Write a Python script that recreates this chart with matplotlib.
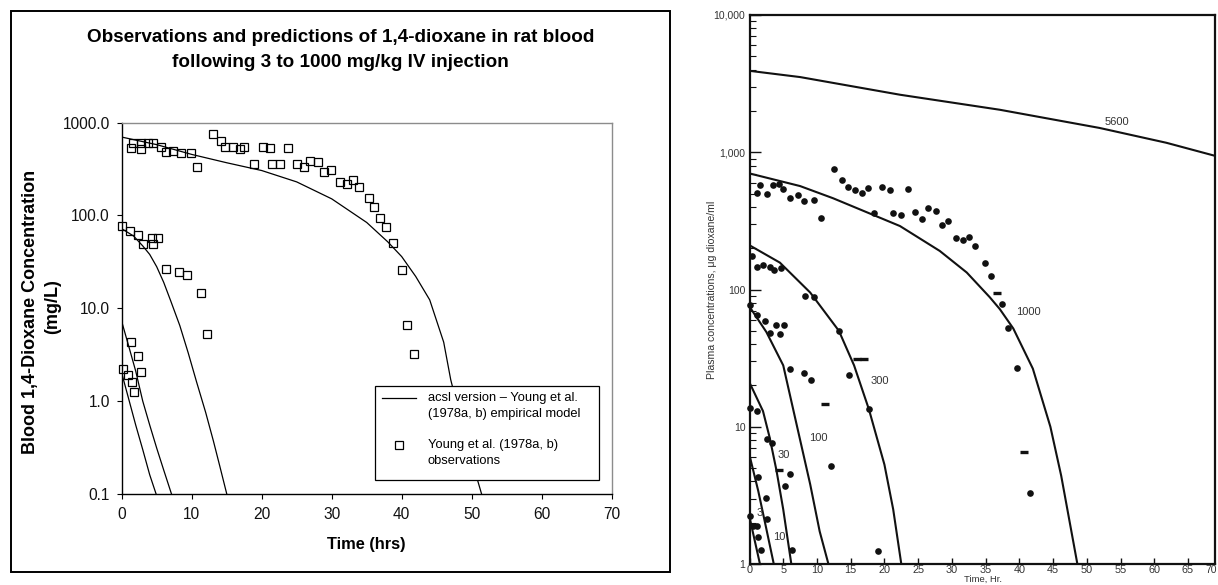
import matplotlib
matplotlib.use("Agg")
import matplotlib.pyplot as plt
from matplotlib.patches import Rectangle
from matplotlib.lines import Line2D
from matplotlib.ticker import FixedLocator, FixedFormatter, NullLocator, LogLocator, NullFormatter

plt.rcParams['font.family'] = ['Liberation Sans', 'DejaVu Sans']

# ---------------- Left panel data (acsl version) ----------------
left_title = ["Observations and predictions of 1,4-dioxane in rat blood",
              "following 3 to 1000 mg/kg IV injection"]
left_ylabel = ["Blood 1,4-Dioxane Concentration", "(mg/L)"]
left_xlabel = "Time (hrs)"
left_xticks = [0, 10, 20, 30, 40, 50, 60, 70]
left_yticks = [0.1, 1, 10, 100, 1000]
left_yticklabels = ["0.1", "1.0", "10.0", "100.0", "1000.0"]
legend_labels = ["acsl version \u2013 Young et al.", "(1978a, b) empirical model",
                 "Young et al. (1978a, b)", "observations"]

# model predictions
L1000_t = [0, 5, 10, 15, 20, 25, 30, 35, 38, 40, 42, 44, 46, 47, 48, 49, 50, 51.4]
L1000_c = [700, 580, 455, 370, 305, 230, 151, 84, 52, 36, 22, 12.3, 4.3, 1.7, 0.85, 0.45, 0.23, 0.1]
L100_t = [0, 1.7, 3, 4, 5, 6, 7, 8.3, 9.5, 10.7, 12, 13.1, 14, 15]
L100_c = [72, 60, 47, 38, 28, 19, 12, 6.5, 3.3, 1.6, 0.75, 0.37, 0.2, 0.1]
L10_t = [0, 1, 2, 3, 4, 5, 6, 7.1]
L10_c = [7.2, 3.9, 2.1, 1.0, 0.55, 0.31, 0.18, 0.1]
L3_t = [0, 1, 2, 3, 4, 4.9]
L3_c = [2.0, 1.05, 0.55, 0.30, 0.16, 0.1]

# observations (open squares)
obs1000_t = [1.29, 1.67, 2.71, 2.71, 3.71, 4.52, 5.62, 6.29, 7.29, 8.43, 9.9, 10.71,
             12.99, 14.19, 14.8, 15.86, 16.86, 17.47, 18.9, 20.14, 21.14, 21.52, 22.57,
             23.8, 25.04, 26.04, 26.9, 28.09, 28.95, 29.95, 31.19, 32.19, 33.04, 33.86,
             35.29, 36.09, 36.95, 37.71, 38.71, 40.0, 40.76, 41.8]
obs1000_c = [538, 609, 517, 600, 600, 600, 551, 483, 499, 468, 466, 336,
             760, 635, 551, 551, 517, 551, 361, 551, 533, 361, 361,
             533, 361, 333, 389, 374, 292, 311, 228, 218, 243, 204,
             153, 124, 93, 76, 51, 25.8, 6.6, 3.24]
obs100_t = [0.04, 1.24, 2.33, 3.09, 4.29, 4.52, 5.24, 6.29, 8.24, 9.29, 11.33, 12.14]
obs100_c = [77.6, 68, 61, 49, 57, 49, 57, 26.7, 24.8, 22.6, 14.6, 5.24]
obs_low_t = [1.29, 2.33, 0.24, 2.71, 0.9, 1.48, 1.71]
obs_low_c = [4.32, 3.05, 2.21, 2.07, 1.92, 1.60, 1.25]

# ---------------- Right panel data (original Young et al. figure) ----------------
right_ylabel = "Plasma concentrations, \u03bcg dioxane/ml"
right_xlabel = "Time, Hr."
right_xticks = [0, 5, 10, 15, 20, 25, 30, 35, 40, 45, 50, 55, 60, 65, 70]
right_yticks = [1, 10, 100, 1000, 10000]
right_yticklabels = ["1", "10", "100", "1,000", "10,000"]

R5600_t = [0, 7.5, 22.3, 37.1, 51.9, 61.8, 69.2]
R5600_c = [3920, 3530, 2625, 2040, 1503, 1172, 936]
R1000_t = [0, 7.5, 12.4, 22.3, 28.2, 32.2, 35.6, 37.1, 39.1, 42.0, 44.6, 46.2, 48.6]
R1000_c = [701, 567, 462, 290, 191, 133, 88, 72, 52, 26.5, 10, 4.4, 1.0]
R300_t = [0, 4.5, 9.0, 13.25, 15.5, 17.7, 20.0, 21.3, 22.5]
R300_c = [210, 157, 95, 50, 28, 13.4, 5.3, 2.5, 1.0]
R100_t = [0, 2.5, 5.0, 7.0, 9.0, 10.4, 11.7]
R100_c = [75, 49, 28, 10.3, 3.8, 1.73, 1.0]
R30_t = [0, 2.0, 3.0, 4.0, 5.0, 6.2]
R30_c = [21, 13, 8.3, 4.8, 2.5, 1.0]
R10_t = [0, 1.3, 2.5, 3.6]
R10_c = [6.2, 3.4, 1.8, 1.0]
R3_t = [0, 0.75, 1.55]
R3_c = [2.2, 1.5, 1.0]

curve_labels = ["5600", "1000", "300", "100", "30", "10", "3"]
curve_label_t = [54.4, 41.3, 19.3, 10.2, 5.1, 4.4, 1.45]
curve_label_c = [1652, 68, 21.7, 8.3, 6.2, 1.56, 2.35]

dots_t = [0.42, 1.06, 1.56, 1.16, 2.05, 2.64, 3.04, 3.53, 3.63, 4.42, 4.62, 5.0, 6.0,
          7.14, 8.07, 9.56, 10.64, 12.52, 13.65, 14.59, 15.68, 16.67, 17.6, 18.44,
          19.63, 20.86, 21.3, 22.5, 23.53, 24.47, 25.6, 26.44, 27.58, 28.57, 29.46,
          30.64, 31.68, 32.57, 33.46, 34.89, 35.73,
          0.07, 1.16, 2.3, 3.09, 3.97, 4.47, 5.16, 8.27, 9.56, 6.0, 8.03, 9.11, 12.03,
          13.26, 14.69, 17.75, 19.08, 0.07, 1.16, 2.55, 3.38, 5.26, 6.05, 1.21, 2.4,
          2.55, 0.07, 0.57, 1.06, 1.3, 1.7, 6.25, 37.4, 38.35, 39.58, 41.56]
dots_c = [174, 508, 581, 147, 151, 493, 147, 581, 139, 590, 143, 543, 467,
          485, 444, 446, 332, 750, 627, 558, 530, 508, 548, 363,
          555, 533, 363, 351, 543, 370, 325, 395, 376, 294, 314,
          236, 228, 242, 206, 157, 126,
          77.6, 65.3, 58.8, 48.3, 55.5, 47.5, 55, 90, 88.7, 26.2, 24.7, 22, 5.2,
          49.7, 23.7, 13.4, 1.25, 13.6, 13, 8.1, 7.6, 3.7, 4.5, 4.3, 3.05,
          2.13, 2.22, 1.88, 1.88, 1.57, 1.27, 1.27, 78.5, 52.3, 26.8, 3.3]
dash_t = [36.62, 11.23, 15.88, 17.0, 4.37, 40.67]
dash_c = [94, 14.7, 31.3, 31, 4.8, 6.6]

# ---------------- Figure ----------------
W, H = 1218, 585
fig = plt.figure(figsize=(W / 100, H / 100), dpi=100)


def fx(px):
    return px / W


def fy(py):
    return 1 - py / H


# outer frame of left chart
fig.add_artist(Rectangle((fx(11), fy(572)), fx(670) - fx(11), fy(11) - fy(572),
                         transform=fig.transFigure, fill=False, edgecolor='black', lw=1.4))

axL = fig.add_axes([fx(121.7), fy(493.7), (611.7 - 121.7) / W, (493.7 - 122.7) / H])
axL.set_yscale('log')
axL.set_xlim(0, 70)
axL.set_ylim(0.1, 1000)
for t, c in [(L1000_t, L1000_c), (L100_t, L100_c), (L10_t, L10_c), (L3_t, L3_c)]:
    axL.plot(t, c, color='black', lw=0.9, clip_on=True)
for t, c in [(obs1000_t, obs1000_c), (obs100_t, obs100_c), (obs_low_t, obs_low_c)]:
    axL.plot(t, c, ls='none', marker='s', ms=6.3, mfc='none', mec='black', mew=0.9, clip_on=False)
axL.xaxis.set_major_locator(FixedLocator(left_xticks))
axL.yaxis.set_major_locator(FixedLocator(left_yticks))
axL.yaxis.set_major_formatter(FixedFormatter(left_yticklabels))
axL.yaxis.set_minor_locator(NullLocator())
axL.tick_params(axis='both', which='major', direction='out', length=3.5, width=0.8,
                labelsize=11.2, colors='black', labelcolor='#111111')
axL.tick_params(axis='x', pad=6)
axL.tick_params(axis='y', pad=5)
axL.spines['left'].set_linewidth(1.0)
axL.spines['bottom'].set_linewidth(1.0)
axL.spines['top'].set_color('#8c8c8c')
axL.spines['right'].set_color('#8c8c8c')
axL.spines['top'].set_linewidth(1.0)
axL.spines['right'].set_linewidth(1.0)

fig.text(fx(340.5), fy(37), left_title[0], ha='center', va='center', fontsize=13.6, fontweight='bold')
fig.text(fx(340.5), fy(62.5), left_title[1], ha='center', va='center', fontsize=13.6, fontweight='bold')
fig.text(fx(366.5), fy(545), left_xlabel, ha='center', va='center', fontsize=11.8, fontweight='bold')
fig.text(fx(30.6), fy(311.7), left_ylabel[0], ha='center', va='center', rotation=90,
         fontsize=13, fontweight='bold')
fig.text(fx(53), fy(307), left_ylabel[1], ha='center', va='center', rotation=90,
         fontsize=13, fontweight='bold')

# legend box
fig.add_artist(Rectangle((fx(374.7), fy(479.5)), fx(598.8) - fx(374.7), fy(385.5) - fy(479.5),
                         transform=fig.transFigure, facecolor='white', edgecolor='black', lw=0.9))
fig.add_artist(Line2D([fx(381.6), fx(416)], [fy(398), fy(398)], transform=fig.transFigure,
                      color='black', lw=0.9))
fig.add_artist(Line2D([fx(399)], [fy(444.7)], transform=fig.transFigure, ls='none',
                      marker='s', ms=6.3, mfc='none', mec='black', mew=0.9))
for txt, yy in zip(legend_labels, [398, 414, 444.7, 461.5]):
    fig.text(fx(427.8), fy(yy), txt, ha='left', va='center', fontsize=9.3)

# ---------------- Right panel ----------------
axR = fig.add_axes([fx(749.5), fy(564), (1215 - 749.5) / W, (564 - 15) / H])
axR.set_yscale('log')
axR.set_xlim(0, 69)
axR.set_ylim(1, 10000)
for t, c in [(R5600_t, R5600_c), (R1000_t, R1000_c), (R300_t, R300_c), (R100_t, R100_c),
             (R30_t, R30_c), (R10_t, R10_c), (R3_t, R3_c)]:
    axR.plot(t, c, color='#111111', lw=1.5)
axR.plot(dots_t, dots_c, ls='none', marker='o', ms=4.8, color='#111111', mew=0, clip_on=False)
axR.plot(dash_t, dash_c, ls='none', marker='_', ms=6, mew=2.4, color='#111111')
for lab, t, c in zip(curve_labels, curve_label_t, curve_label_c):
    axR.text(t, c, lab, ha='center', va='center', fontsize=8, color='#333333')

axR.xaxis.set_major_locator(FixedLocator(right_xticks))
axR.yaxis.set_major_locator(FixedLocator(right_yticks))
axR.yaxis.set_major_formatter(FixedFormatter(right_yticklabels))
axR.yaxis.set_minor_locator(LogLocator(base=10, subs=[2, 3, 4, 5, 6, 7, 8, 9]))
axR.yaxis.set_minor_formatter(NullFormatter())
axR.tick_params(axis='y', which='major', direction='in', length=8, width=1.0,
                labelsize=7.5, colors='#111111', labelcolor='#333333', pad=3)
axR.tick_params(axis='y', which='minor', direction='in', length=4, width=0.8, colors='#111111')
axR.tick_params(axis='x', which='major', direction='in', length=4.5, width=1.0,
                labelsize=7.8, colors='#111111', labelcolor='#333333', pad=1)
for s in axR.spines.values():
    s.set_linewidth(1.6)
    s.set_color('#111111')
# tick label that lies at the cropped right edge, kept inside the picture
for xt in right_xticks:
    if xt > axR.get_xlim()[1]:
        fig.text(fx(1217), fy(565), str(xt), ha='right', va='top', fontsize=7.5,
                 color='#333333')

fig.text(fx(712), fy(290), right_ylabel, ha='center', va='center', rotation=90,
         fontsize=7.6, color='#333333')
fig.text(fx(983), fy(579.5), right_xlabel, ha='center', va='center', fontsize=6.8, color='#333333')

fig.savefig("out.png", dpi=100)
